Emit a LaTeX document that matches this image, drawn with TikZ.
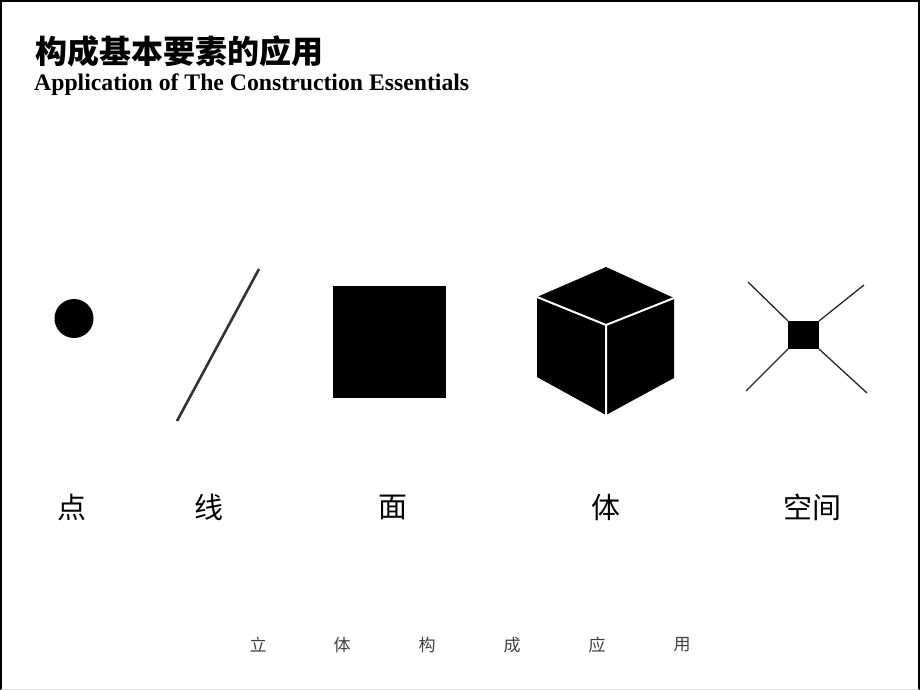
\documentclass[tikz,border=0pt]{standalone}
\usepackage{fontspec}
\usepackage{graphicx}
\setmainfont{Liberation Serif}
\newfontfamily\cjk{Noto Sans CJK SC}
\begin{document}
\begin{tikzpicture}[x=1pt,y=-1pt,
  bigcjk/.style={font=\cjk\fontsize{29}{29}\selectfont, inner sep=0pt, anchor=center},
  smallcjk/.style={font=\cjk\fontsize{17}{17}\selectfont, text=black!75, inner sep=0pt, anchor=center},
  frameline/.style={line width=2pt, black}]
\useasboundingbox (0,0) rectangle (920,690);
\fill[white] (0,0) rectangle (920,690);
% frame
\draw[frameline] (1,690) -- (1,1) -- (919,1) -- (919,690);
\draw[black!12, line width=1pt] (1,689.5) -- (919,689.5);
% title
\node[anchor=west, inner sep=0pt] (title) at (35,51) {\resizebox{288pt}{!}{\cjk\bfseries 构成基本要素的应用}};
\node[anchor=west, inner sep=0pt] (subtitle) at (34,85) {\resizebox{435pt}{!}{\bfseries Application of The Construction Essentials}};
% point
\fill[black] (74,318.5) circle (19.5);
% line
\coordinate (l1) at (177,421);
\coordinate (l2) at (259,269);
\draw[black!80, line width=2.6pt] (l1) -- (l2);
% face
\fill[black] (333,286) rectangle (446,398);
% cube
\coordinate (ct) at (606,267);
\coordinate (cl) at (537,297);
\coordinate (cr) at (674,298);
\coordinate (cc) at (606,325);
\coordinate (cll) at (537,377);
\coordinate (crl) at (674,378);
\coordinate (cb) at (606,415);
\fill[black] (ct) -- (cr) -- (crl) -- (cb) -- (cll) -- (cl) -- cycle;
\draw[white, line width=2pt] (cl) -- (cc) -- (cr) (cc) -- (cb);
% space
\coordinate (s1) at (788,321);
\coordinate (s2) at (819,321);
\coordinate (s3) at (819,349);
\coordinate (s4) at (788,349);
\coordinate (e1) at (748,282);
\coordinate (e2) at (864,285);
\coordinate (e3) at (867,393);
\coordinate (e4) at (746,391);
\fill[black] (s1) rectangle (s3);
\draw[black!85, line width=1.3pt] (e1) -- (s1) (e2) -- (s2) (e3) -- (s3) (e4) -- (s4);
% labels
\node[bigcjk] (dian) at (72,507) {点};
\node[bigcjk] (xian) at (209,507) {线};
\node[bigcjk] (mian) at (393,507) {面};
\node[bigcjk] (ti) at (606,507) {体};
\node[bigcjk] (kongjian) at (812,507) {空间};
% bottom
\node[smallcjk] (b1) at (258,645) {立};
\node[smallcjk] (b2) at (342,645) {体};
\node[smallcjk] (b3) at (427,645) {构};
\node[smallcjk] (b4) at (512,645) {成};
\node[smallcjk] (b5) at (597,645) {应};
\node[smallcjk] (b6) at (682,645) {用};
\end{tikzpicture}
\end{document}
